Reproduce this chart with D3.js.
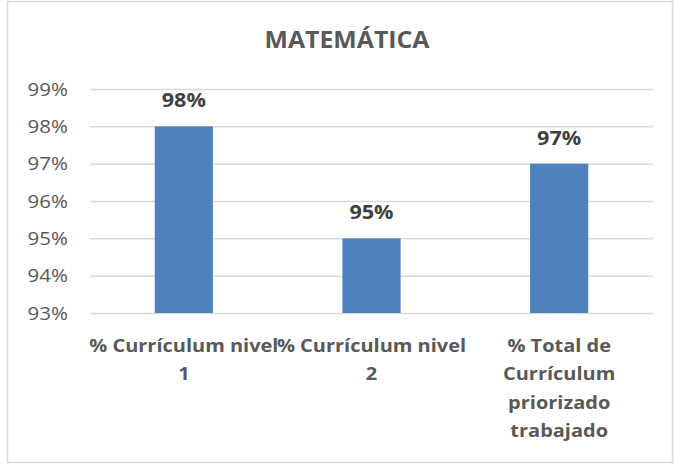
<!DOCTYPE html>
<html>
<head>
<meta charset="utf-8">
<script src="https://cdn.jsdelivr.net/npm/d3@7/dist/d3.min.js"></script>
<style>
  body { margin: 0; background: #fff; }
  svg { display: block; }
</style>
</head>
<body>
<div id="chart"></div>
<script>
var categories = ["% Currículum nivel 1", "% Currículum nivel 2", "% Total de Currículum priorizado trabajado"];
var values = [98, 95, 97];
var tickLines = [
    ["% Currículum nivel", "1"],
    ["% Currículum nivel", "2"],
    ["% Total de", "Currículum", "priorizado", "trabajado"]
];
var yTicks = [93, 94, 95, 96, 97, 98, 99];
var title = "MATEMÁTICA";

var width = 674,
    height = 466,
    sx = 1.08, // the original text is a bit wider than Open Sans
    font = "'Open Sans', Lato, sans-serif";

var svg = d3.select("#chart").append("svg")
    .attr("width", width)
    .attr("height", height);

// chart area border
svg.append("rect")
    .attr("x", 7.5).attr("y", 1.5)
    .attr("width", 665).attr("height", 461)
    .attr("fill", "#fff")
    .attr("stroke", "#d9d9d9")
    .attr("stroke-width", 1.5);

var x = d3.scaleBand()
    .domain(categories)
    .range([90, 653])
    .paddingInner(0.69)
    .paddingOuter(0.345);

var y = d3.scaleLinear()
    .domain([93, 99])
    .range([313, 89]);

function place(px, py) {
    return "translate(" + px + "," + py + ") scale(" + sx + ",1)";
}

svg.append("text")
    .attr("transform", place(347, 48))
    .attr("text-anchor", "middle")
    .style("font-family", font)
    .style("font-weight", "bold")
    .style("font-size", "23px")
    .style("fill", "#595959")
    .text(title);

// gridlines + y labels
var yAxis = svg.append("g")
    .attr("transform", "translate(90,0)")
    .call(d3.axisLeft(y).tickValues(yTicks).tickSize(-563).tickPadding(22)
        .tickFormat(function(d) { return d + "%"; }));
yAxis.select(".domain").remove();
yAxis.selectAll(".tick line").attr("stroke", "#d9d9d9").attr("stroke-width", 1.5);
yAxis.selectAll(".tick text")
    .attr("x", -22 / sx)
    .attr("transform", "scale(" + sx + ",1)")
    .attr("fill", "#595959")
    .style("font-family", font)
    .style("font-size", "19px");

svg.selectAll(".bar")
    .data(values)
    .enter().append("rect")
    .attr("class", "bar")
    .attr("x", function(d, i) { return x(categories[i]); })
    .attr("y", function(d) { return y(d); })
    .attr("width", x.bandwidth())
    .attr("height", function(d) { return y(93) - y(d); })
    .attr("fill", "#4f81bd");

svg.selectAll(".lbl")
    .data(values)
    .enter().append("text")
    .attr("class", "lbl")
    .attr("transform", function(d, i) {
        return place(x(categories[i]) + x.bandwidth() / 2, y(d) - 19);
    })
    .attr("text-anchor", "middle")
    .style("font-family", font)
    .style("font-weight", "bold")
    .style("font-size", "20px")
    .style("fill", "#404040")
    .text(function(d) { return d + "%"; });

// category labels, wrapped like the original
var catText = svg.selectAll(".cat")
    .data(categories)
    .enter().append("text")
    .attr("class", "cat")
    .attr("transform", function(d) { return place(x(d) + x.bandwidth() / 2, 352); })
    .attr("text-anchor", "middle")
    .style("font-family", font)
    .style("font-weight", "bold")
    .style("font-size", "18.5px")
    .style("fill", "#595959");

catText.each(function(d, i) {
    var t = d3.select(this);
    tickLines[i].forEach(function(line, j) {
        t.append("tspan")
            .attr("x", 0)
            .attr("y", j * 28.5)
            .text(line);
    });
});
</script>
</body>
</html>
